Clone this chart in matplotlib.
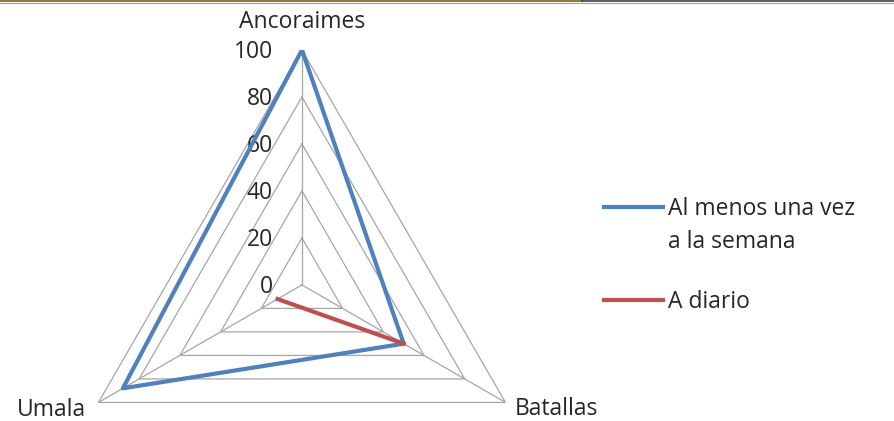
import numpy as np
import matplotlib
matplotlib.use("Agg")
import matplotlib.pyplot as plt
from matplotlib.lines import Line2D

plt.rcParams['font.family'] = ['Open Sans', 'DejaVu Sans']

categories = ["Ancoraimes", "Batallas", "Umala"]
semana = [100, 50, 88]
diario = [np.nan, 50, 12]
ticks = [0, 20, 40, 60, 80, 100]

blue = "#4F81BD"
red = "#C0504D"
grid_c = "#A6A6A6"
txt_c = "#262626"
fs = 16.5

fig = plt.figure(figsize=(8.94, 4.21), dpi=100)
ax = fig.add_axes([0.0749, -0.235, 0.5257, 1.1164], projection="polar")
ax.set_theta_offset(np.pi / 2)
ax.set_theta_direction(-1)
ax.set_ylim(0, 100)
ax.grid(False)
ax.spines["polar"].set_visible(False)
ax.set_xticks([])
ax.set_yticks([])
ax.patch.set_alpha(0)

n = len(categories)
angles = np.arange(n) * 2 * np.pi / n
closed = np.append(angles, angles[0])

# triangular grid
for t in ticks[1:]:
    ax.plot(closed, [t] * (n + 1), color=grid_c, lw=0.9, zorder=1)
for a in angles:
    ax.plot([a, a], [0, 100], color=grid_c, lw=0.9, zorder=1)

# radial labels
for t in ticks:
    ax.annotate(str(t), xy=(0, t), xytext=(-21, -1.5), textcoords="offset points",
                ha="right", va="center", fontsize=fs, color=txt_c,
                annotation_clip=False)

l1, = ax.plot(closed, semana + semana[:1], color=blue, lw=3, zorder=3)
l2, = ax.plot(closed, diario + diario[:1], color=red, lw=3, zorder=3)

# category labels
offs = [((0, 16), "center"), ((6.5, -9), "left"), ((-8.6, -9.5), "right")]
for a, lab, (o, ha) in zip(angles, categories, offs):
    ax.annotate(lab, xy=(a, 100), xytext=o, textcoords="offset points",
                ha=ha, va="baseline", fontsize=fs, color=txt_c,
                annotation_clip=False)

leg = fig.legend([l1, l2], ["Al menos una vez", "A diario"], loc="upper left",
                 bbox_to_anchor=(0.652, 0.581), frameon=False, fontsize=fs,
                 handlelength=2.6, handletextpad=0.2, labelspacing=3.0,
                 labelcolor=txt_c)
fig.canvas.draw()
ax.annotate("a la semana", xy=(0, 0), xycoords=leg.get_texts()[0],
            xytext=(0, -33), textcoords="offset pixels", ha="left",
            va="bottom", fontsize=fs, color=txt_c, annotation_clip=False)

# thin top border strip
fig.add_artist(Line2D([0, 0.651], [0.998, 0.998], color="#7A5C1E", lw=1.2,
                      transform=fig.transFigure))
fig.add_artist(Line2D([0.651, 1], [0.998, 0.998], color="#404040", lw=1.2,
                      transform=fig.transFigure))
fig.add_artist(Line2D([0, 1], [0.994, 0.994], color="#A0A0A0", lw=0.8,
                      transform=fig.transFigure))

fig.savefig("out.png", dpi=100)
